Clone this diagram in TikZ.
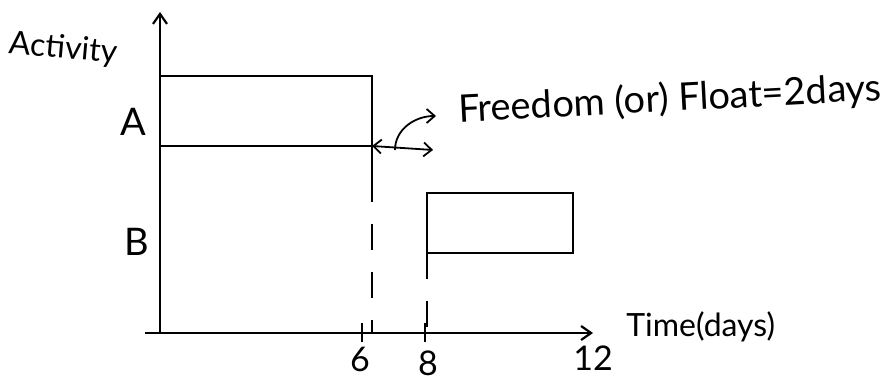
\documentclass[tikz,border=0pt]{standalone}
\usepackage{fontspec}
\setmainfont{Lato}
\usetikzlibrary{arrows.meta}

\begin{document}
\begin{tikzpicture}[x=0.5pt, y=0.5pt,
    axis/.style={line width=1.1pt, -{Straight Barb[length=5pt,width=7pt]}},
    bar/.style={draw, line width=1.1pt, outer sep=0pt},
    guide/.style={line width=0.9pt, dash pattern=on 13pt off 11pt},
    lbl/.style={font=\fontsize{19}{22}\selectfont, inner sep=1pt},
    small/.style={font=\fontsize{16}{19}\selectfont, inner sep=1pt},
    num/.style={font=\fontsize{17}{20}\selectfont, inner sep=1pt},
    arr/.style={line width=0.9pt, -{Straight Barb[length=4pt,width=7pt]}}
]
\useasboundingbox (0,0) rectangle (894,386);
\coordinate (orig) at (160,53);
\coordinate (ytop) at (160,374);
\coordinate (xstart) at (145,53);
\coordinate (xend) at (593,53);
\draw[axis] (orig) -- (ytop);
\draw[axis] (xstart) -- (xend);

\node[bar, minimum width=106pt, minimum height=35pt, anchor=north west] (barA) at (160,310) {};
\node[bar, minimum width=73pt, minimum height=30pt, anchor=north west] (barB) at (427,193) {};

\coordinate (endA) at (372,210);
\coordinate (six) at (372,53);
\coordinate (eight) at (427,53);
\draw[line width=1.1pt] (barA.south east) -- (endA);
\draw[guide] (endA) -- (six);
\draw[guide] (barB.south west) -- (eight);
\draw[line width=1.1pt] (362,44) -- (362,63);
\draw[line width=1.1pt] (425,44) -- (425,63);

\coordinate (floatend) at (433,236);
\coordinate (bend) at (395,236);
\coordinate (pointer) at (436,270);
\draw[line width=0.9pt, {Straight Barb[length=4pt,width=7pt]}-{Straight Barb[length=4pt,width=7pt]}] (barA.south east) -- (floatend);
\draw[arr] (bend) to[out=90, in=180] (pointer);

\node[lbl, anchor=west, rotate=3] (float) at (456,275) {Freedom (or) Float=2days};
\node[small, rotate=-5] (act) at (63,337) {Activity};
\node[lbl] (labA) at (133,264) {A};
\node[lbl] (labB) at (137,144) {B};
\node[num] (n6) at (360,27) {6};
\node[num] (n8) at (428,23) {8};
\node[num] (n12) at (593,28) {12};
\node[small, anchor=west] (time) at (624,59) {Time(days)};
\end{tikzpicture}
\end{document}
